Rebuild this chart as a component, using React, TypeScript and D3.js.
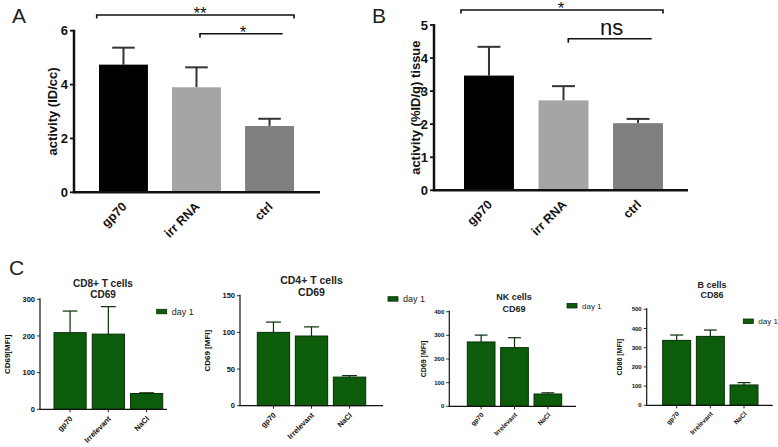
import React from "react";
import * as d3 from "d3";

// ---------- DATA ----------
const topCategories = ["gp70", "irr RNA", "ctrl"];
const panelAValues = [4.74, 3.9, 2.46];
const panelAErrors = [0.63, 0.74, 0.27];
const panelATicks = [0, 2, 4, 6];

const panelBValues = [3.47, 2.72, 2.03];
const panelBErrors = [0.87, 0.43, 0.13];
const panelBTicks = [0, 1, 2, 3, 4, 5];

const cCategories = ["gp70", "Irrelevant", "NaCl"];
const cd8Values = [209, 205, 43];
const cd8Errors = [59, 75, 2];
const cd8Ticks = [0, 100, 200, 300];

const cd4Values = [100, 95, 39];
const cd4Errors = [14, 12.5, 2];
const cd4Ticks = [0, 50, 100, 150];

const nkValues = [272, 248, 52];
const nkErrors = [29, 42, 5];
const nkTicks = [0, 100, 200, 300, 400];

const bValues = [338, 359, 106];
const bErrors = [28, 33, 12];
const bTicks = [0, 100, 200, 300, 400, 500];

const topColors = ["#000000", "#a5a5a5", "#7f7f7f"];
const green = "#0c5c0c";
const greenStroke = "#062e06";

const FONT = "'Liberation Sans', Arial, sans-serif";
const C45 = Math.SQRT1_2;

type PanelProps = {
  cats: string[];
  values: number[];
  errors: number[];
  ticks: number[];
  domainMax: number;
  yBottom: number;
  yTop: number;
  axisX: number;
  axisEnd: number;
  barStart: number;
  barEnd: number;
  pad: number;
  fills: string[];
  stroke?: string;
  axisWidth: number;
  errWidth: number;
  tickFont: number;
  tickLen: number;
  xFont: number;
  xdx: number;
  xdy: number;
  yLabel: string;
  yLabelX: number;
  yLabelFont: number;
  xTicks?: boolean;
};

function Panel(p: PanelProps) {
  const y = d3.scaleLinear().domain([0, p.domainMax]).range([p.yBottom, p.yTop]);
  const step = (p.barEnd - p.barStart) / (p.cats.length - p.pad);
  const x = d3
    .scaleBand()
    .domain(p.cats)
    .range([p.barStart - (step * p.pad) / 2, p.barEnd + (step * p.pad) / 2])
    .paddingInner(p.pad)
    .paddingOuter(p.pad / 2);
  const bw = x.bandwidth();
  const yMid = (p.yBottom + p.yTop) / 2;
  return (
    <g>
      {p.cats.map((c, i) => {
        const x0 = x(c)!;
        const cx = x0 + bw / 2;
        const top = y(p.values[i]);
        const et = y(p.values[i] + p.errors[i]);
        const tx = cx + p.xdx;
        const ty = p.yBottom + p.xdy;
        return (
          <g key={c}>
            <line x1={cx} x2={cx} y1={top} y2={et} stroke={p.stroke ?? "#333"} strokeWidth={p.errWidth} />
            <line x1={cx - bw * 0.23} x2={cx + bw * 0.23} y1={et} y2={et} stroke={p.stroke ?? "#333"} strokeWidth={p.errWidth} />
            <rect
              x={x0}
              y={top}
              width={bw}
              height={p.yBottom - top}
              fill={p.fills[i % p.fills.length]}
              stroke={p.stroke ?? "none"}
              strokeWidth={p.stroke ? 1 : 0}
            />
            {p.xTicks && (
              <line x1={cx} x2={cx} y1={p.yBottom} y2={p.yBottom + 3} stroke="#222" strokeWidth={1} />
            )}
            <text
              transform={`matrix(${C45},${-C45},${C45},${C45},${tx},${ty})`}
              x={0}
              y={0}
              textAnchor="end"
              fontFamily={FONT}
              fontWeight="bold"
              fontSize={p.xFont}
              fill="#111"
            >
              {c}
            </text>
          </g>
        );
      })}
      <line x1={p.axisX} x2={p.axisX} y1={p.yTop - 1} y2={p.yBottom} stroke="#111" strokeWidth={p.axisWidth} />
      <line x1={p.axisX - p.axisWidth / 2} x2={p.axisEnd} y1={p.yBottom} y2={p.yBottom} stroke="#111" strokeWidth={p.axisWidth} />
      {p.ticks.map((t) => (
        <g key={t}>
          <line x1={p.axisX - p.tickLen} x2={p.axisX} y1={y(t)} y2={y(t)} stroke="#111" strokeWidth={p.axisWidth * 0.7} />
          <text
            x={p.axisX - p.tickLen - 2}
            y={y(t)}
            dy="0.35em"
            textAnchor="end"
            fontFamily={FONT}
            fontWeight="bold"
            fontSize={p.tickFont}
            fill="#111"
          >
            {t}
          </text>
        </g>
      ))}
      <text
        transform={`translate(${p.yLabelX},${yMid}) rotate(-90)`}
        textAnchor="middle"
        dy="0.35em"
        fontFamily={FONT}
        fontWeight="bold"
        fontSize={p.yLabelFont}
        fill="#111"
      >
        {p.yLabel}
      </text>
    </g>
  );
}

function Title({ x, y1, y2, l1, l2, size }: { x: number; y1: number; y2: number; l1: string; l2: string; size: number }) {
  return (
    <g fontFamily={FONT} fontWeight="bold" fontSize={size} fill="#222" textAnchor="middle">
      <text x={x} y={y1}>{l1}</text>
      <text x={x} y={y2}>{l2}</text>
    </g>
  );
}

function Legend({ x, y, size }: { x: number; y: number; size: number }) {
  return (
    <g>
      <rect x={x} y={y} width={10} height={4.5} fill={green} stroke={greenStroke} strokeWidth={0.8} />
      <text x={x + 15} y={y + 2.5} dy="0.35em" fontFamily={FONT} fontSize={size} fill="#222">
        day 1
      </text>
    </g>
  );
}

function Bracket({ x1, x2, y, leftTick, rightTick }: { x1: number; x2: number; y: number; leftTick: number; rightTick: number }) {
  return (
    <path
      d={`M${x1},${y + leftTick} L${x1},${y} L${x2},${y} L${x2},${y + rightTick}`}
      fill="none"
      stroke="#111"
      strokeWidth={1.6}
    />
  );
}

export default function App() {
  const cCommon = {
    cats: cCategories,
    fills: [green],
    stroke: greenStroke,
    axisWidth: 1.2,
    errWidth: 1.2,
    tickLen: 3,
    xTicks: true,
  };
  return (
    <svg width={778} height={447} style={{ position: "absolute", left: 0, top: 0, background: "#fff" }}>
      <rect width={778} height={447} fill="#fff" />
      {/* Panel labels */}
      <text x={12} y={23} fontFamily={FONT} fontSize={21} fill="#222">A</text>
      <text x={372} y={23} fontFamily={FONT} fontSize={21} fill="#222">B</text>
      <text x={9} y={275} fontFamily={FONT} fontSize={21} fill="#222">C</text>

      {/* Panel A */}
      <Panel
        cats={topCategories}
        values={panelAValues}
        errors={panelAErrors}
        ticks={panelATicks}
        domainMax={6}
        yBottom={192.3}
        yTop={30.7}
        axisX={74}
        axisEnd={320}
        barStart={99}
        barEnd={294}
        pad={0.33}
        fills={topColors}
        axisWidth={2.5}
        errWidth={2}
        tickFont={13}
        tickLen={4}
        xFont={12.5}
        xdx={4}
        xdy={15}
        yLabel="activity (ID/cc)"
        yLabelX={52}
        yLabelFont={13}
      />
      <Bracket x1={96.7} x2={294} y={15} leftTick={3.5} rightTick={3.5} />
      <text x={200} y={19} textAnchor="middle" fontFamily={FONT} fontSize={17} fill="#111">**</text>
      <Bracket x1={200} x2={282.7} y={33.7} leftTick={4} rightTick={0} />
      <text x={243} y={37.5} textAnchor="middle" fontFamily={FONT} fontSize={17} fill="#111">*</text>

      {/* Panel B */}
      <Panel
        cats={topCategories}
        values={panelBValues}
        errors={panelBErrors}
        ticks={panelBTicks}
        domainMax={5}
        yBottom={190.3}
        yTop={25}
        axisX={434}
        axisEnd={688}
        barStart={464}
        barEnd={663}
        pad={0.33}
        fills={topColors}
        axisWidth={2.5}
        errWidth={2}
        tickFont={13}
        tickLen={4}
        xFont={12.5}
        xdx={4}
        xdy={15}
        yLabel="activity (%ID/g) tissue"
        yLabelX={415}
        yLabelFont={13}
      />
      <Bracket x1={461} x2={663} y={10} leftTick={3.5} rightTick={3.5} />
      <text x={561} y={14} textAnchor="middle" fontFamily={FONT} fontSize={17} fill="#111">*</text>
      <Bracket x1={568.3} x2={651.7} y={38.7} leftTick={4} rightTick={0} />
      <text x={611.7} y={35} textAnchor="middle" fontFamily={FONT} fontSize={22} fill="#111">ns</text>

      {/* CD8 */}
      <Title x={103} y1={287} y2={297.5} l1="CD8+ T cells" l2="CD69" size={10} />
      <Panel
        {...cCommon}
        values={cd8Values}
        errors={cd8Errors}
        ticks={cd8Ticks}
        domainMax={300}
        yBottom={409.3}
        yTop={299.3}
        axisX={40}
        axisEnd={167}
        barStart={54}
        barEnd={162.7}
        pad={0.16}
        tickFont={7.5}
        xFont={7.5}
        xdx={3}
        xdy={10}
        yLabel="CD69[MFI]"
        yLabelX={7.5}
        yLabelFont={8}
      />
      <Legend x={156.7} y={309.3} size={9} />

      {/* CD4 */}
      <Title x={311.5} y1={283.5} y2={295.5} l1="CD4+ T cells" l2="CD69" size={10.5} />
      <Panel
        {...cCommon}
        values={cd4Values}
        errors={cd4Errors}
        ticks={cd4Ticks}
        domainMax={150}
        yBottom={405.7}
        yTop={295.7}
        axisX={240}
        axisEnd={383}
        barStart={257.3}
        barEnd={365.7}
        pad={0.15}
        tickFont={7.5}
        xFont={7.5}
        xdx={3}
        xdy={10}
        yLabel="CD69 [MFI]"
        yLabelX={207.5}
        yLabelFont={8}
      />
      <Legend x={388} y={296.7} size={9} />

      {/* NK */}
      <Title x={514} y1={300} y2={311.7} l1="NK cells" l2="CD69" size={9} />
      <Panel
        {...cCommon}
        values={nkValues}
        errors={nkErrors}
        ticks={nkTicks}
        domainMax={400}
        yBottom={406.3}
        yTop={311.7}
        axisX={449.3}
        axisEnd={576}
        barStart={467.3}
        barEnd={561.7}
        pad={0.17}
        tickFont={6}
        xFont={6.5}
        xdx={3}
        xdy={9}
        yLabel="CD69 [MFI]"
        yLabelX={424}
        yLabelFont={7}
      />
      <Legend x={567} y={303.5} size={8} />

      {/* B cells */}
      <Title x={712} y1={287.7} y2={297.7} l1="B cells" l2="CD86" size={9} />
      <Panel
        {...cCommon}
        values={bValues}
        errors={bErrors}
        ticks={bTicks}
        domainMax={500}
        yBottom={405.3}
        yTop={309.3}
        axisX={646.7}
        axisEnd={772.7}
        barStart={662.7}
        barEnd={758}
        pad={0.17}
        tickFont={6}
        xFont={6.5}
        xdx={3}
        xdy={9}
        yLabel="CD86 [MFI]"
        yLabelX={619.5}
        yLabelFont={7}
      />
      <Legend x={743.3} y={319} size={8} />
    </svg>
  );
}
